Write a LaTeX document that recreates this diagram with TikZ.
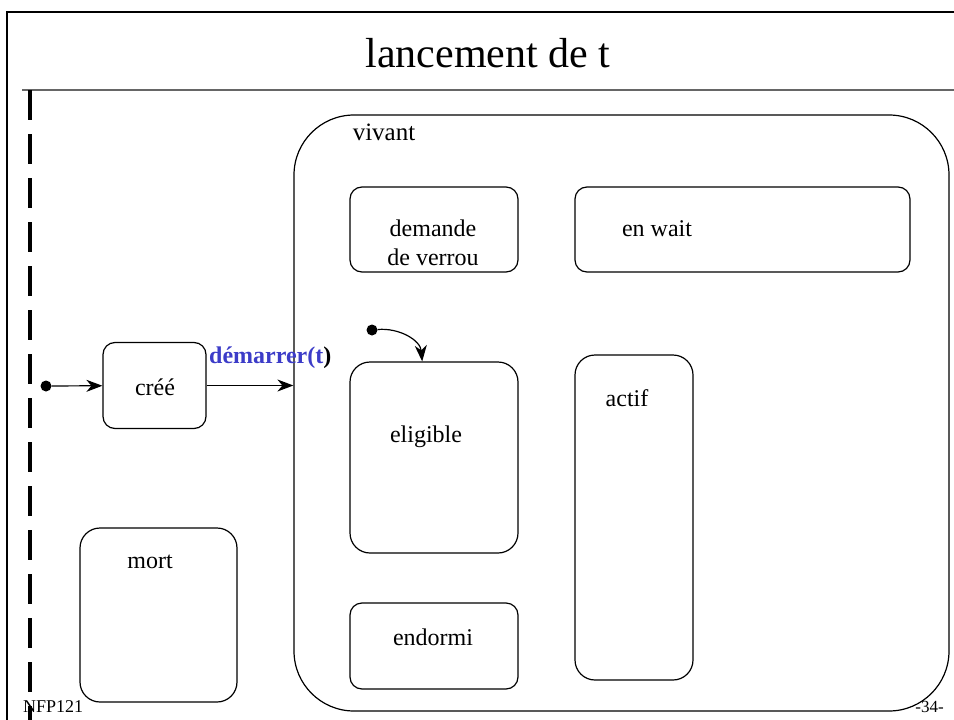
\documentclass[tikz,border=0pt]{standalone}
\usepackage{fontspec}
\setmainfont{Liberation Serif}
\usetikzlibrary{arrows.meta}
\definecolor{trigblue}{RGB}{60,60,200}
\begin{document}
\begin{tikzpicture}[x=1pt, y=-1pt, font=\fontsize{24}{29}\selectfont,
  >={Stealth[length=16pt,width=12pt,inset=5pt]}]
\tikzstyle{state} = [draw, line width=1.2pt, inner sep=0pt, rounded corners=12pt]
\tikzstyle{point} = [circle, minimum width=11pt, fill, inner sep=0pt]
\tikzstyle{txt} = [inner sep=0pt]

\useasboundingbox (0,0) rectangle (954,720);
\clip (0,0) rectangle (954,720);
% slide frame
\draw[line width=2pt] (7,740) -- (7,12) -- (970,12);
\draw[line width=1.5pt, black!60] (22,90) -- (970,90);
\draw[line width=4.5pt, dash pattern=on 30pt off 14pt] (30,90) -- (30,730);
\node[txt, font=\fontsize{42}{50}\selectfont] (title) at (488,53) {lancement de t};

% states
\node[state, minimum width=103pt, minimum height=86pt] (cree) at (154.5,385.5) {};
\node[state, minimum width=157pt, minimum height=174pt, rounded corners=20pt] (mort) at (158.5,615) {};
\node[state, minimum width=655pt, minimum height=596pt, rounded corners=60pt] (vivant) at (621.5,413) {};
\node[state, minimum width=168pt, minimum height=85pt] (demande) at (434,229.5) {};
\node[state, minimum width=335pt, minimum height=85pt] (enwait) at (742.5,229.5) {};
\node[state, minimum width=168pt, minimum height=191pt, rounded corners=20pt] (eligible) at (434,457.5) {};
\node[state, minimum width=118pt, minimum height=325pt, rounded corners=20pt] (actif) at (634,517.5) {};
\node[state, minimum width=168pt, minimum height=86pt] (endormi) at (434,646) {};

% texts
\node[txt] (tcree) at (155,387) {créé};
\node[txt] (tmort) at (150,562) {mort};
\node[txt, font=\fontsize{25}{30}\selectfont] (tvivant) at (384,132) {vivant};
\node[txt, align=center] (tdemande) at (433,243) {demande\\de verrou};
\node[txt] (tenwait) at (657,229) {en wait};
\node[txt] (teligible) at (426,437) {eligible};
\node[txt] (tactif) at (627,398) {actif};
\node[txt] (tendormi) at (433,637) {endormi};

% transitions
\node[point] (init) at (46,386) {};
\node[point] (init2) at (372,330) {};
\draw[->, line width=1.2pt] (init) -- (cree);
\draw[->, line width=1.2pt] (cree.east) -- (cree.east -| vivant.west)
  node[pos=0, anchor=base west, inner sep=2pt, yshift=22pt, font=\fontsize{24}{29}\selectfont\bfseries]
  {\textcolor{trigblue}{démarrer(t})};
\draw[->, line width=1.2pt] (init2) to[out=5, in=95] (eligible.97);

% footer
\node[txt, anchor=base west, font=\fontsize{18}{22}\selectfont] (course) at (23,712) {NFP121};
\node[txt, anchor=base east, font=\fontsize{17}{20}\selectfont] (page) at (944,712) {-34-};
\end{tikzpicture}
\end{document}
